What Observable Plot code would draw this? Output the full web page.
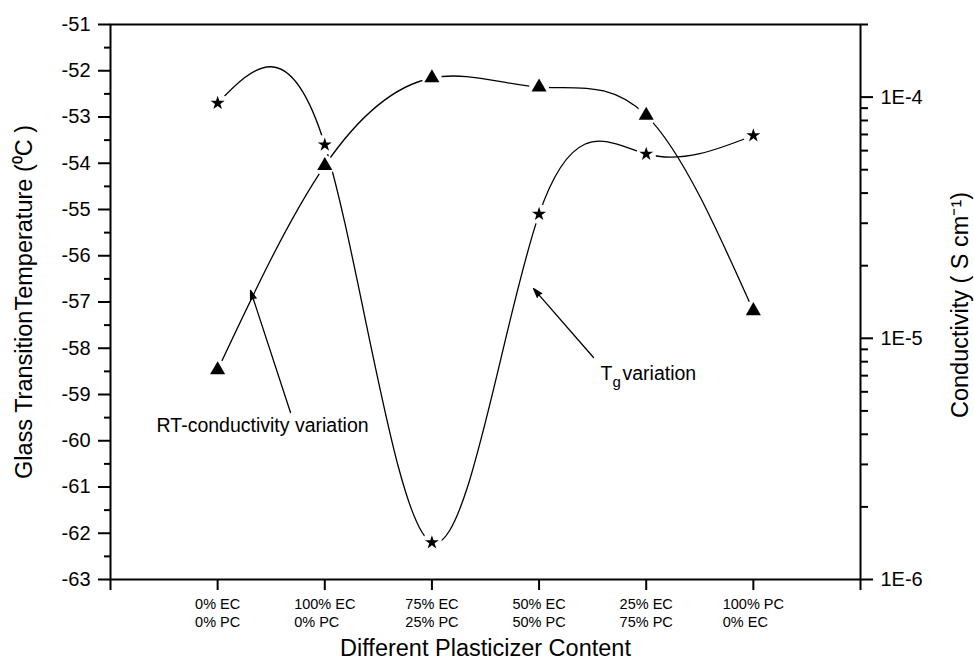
<!DOCTYPE html>
<html>
<head>
<meta charset="utf-8">
<script src="https://cdn.jsdelivr.net/npm/d3@7"></script>
<script src="https://cdn.jsdelivr.net/npm/@observablehq/plot@0.6"></script>
<style>
  html, body { margin: 0; padding: 0; background: #fff; }
  #chart { width: 974px; height: 659px; }
</style>
</head>
<body>
<div id="chart"></div>
<script>
// ---- data ----
const categories = ["0% EC\n0% PC", "100% EC\n0% PC", "75% EC\n25% PC", "50% EC\n50% PC", "25% EC\n75% PC", "100% PC\n0% EC"];
const categoryIndex = [1, 2, 3, 4, 5, 6];
const tgValues = [-52.7, -53.6, -62.2, -55.1, -53.8, -53.4];           // °C, left axis (stars)
const conductivity = [7.4e-6, 5.2e-5, 1.2e-4, 1.1e-4, 8.4e-5, 1.3e-5]; // S/cm, right log axis (triangles)
const leftTicks = d3.range(-63, -50, 1);
const leftMinorTicks = d3.range(-62.5, -51, 1);
const rightMajorTicks = [1e-6, 1e-5, 1e-4];
const rightMinorTicks = [2e-6,3e-6,4e-6,5e-6,6e-6,7e-6,8e-6,9e-6,2e-5,3e-5,4e-5,5e-5,6e-5,7e-5,8e-5,9e-5,2e-4];
const xTicks = [0, 1, 2, 3, 4, 5, 6, 7];
const leftDomain = [-63, -51];
const rightDomain = [1e-6, 2e-4];

// annotations (in chart data coordinates)
const noteLabels = ["RT-conductivity variation"];
const noteX = [0.43];
const noteY = [-59.67];
const arrowFromX = [1.68, 4.508];
const arrowFromY = [-59.39, -58.2];
const arrowToX = [1.307, 3.948];
const arrowToY = [-56.75, -56.71];
const tgNoteX = [4.573];
const tgNoteY = [-58.55];

// map conductivity (log scale on right axis) onto the left linear axis
const L0 = Math.log10(rightDomain[0]), L1 = Math.log10(rightDomain[1]);
const toLeft = c => leftDomain[0] + (leftDomain[1] - leftDomain[0]) * (Math.log10(c) - L0) / (L1 - L0);
const fromLeft = v => Math.pow(10, L0 + (v - leftDomain[0]) * (L1 - L0) / (leftDomain[1] - leftDomain[0]));

const tgData = categoryIndex.map((i, k) => ({i, v: tgValues[k]}));
const condData = categoryIndex.map((i, k) => ({i, v: toLeft(conductivity[k])}));
const arrows = arrowFromX.map((x, k) => ({x1: x, y1: arrowFromY[k], x2: arrowToX[k], y2: arrowToY[k]}));
const notes = noteLabels.map((t, k) => ({x: noteX[k], y: noteY[k], t}));
const tgNote = tgNoteX.map((x, k) => ({x, y: tgNoteY[k]}));

const font = "'Liberation Sans', Arial, Helvetica, sans-serif";

const chart = Plot.plot({
  width: 974,
  height: 659,
  marginLeft: 110,
  marginRight: 114,
  marginTop: 24,
  marginBottom: 80,
  style: {fontFamily: font, background: "#fff", color: "#000"},
  x: {domain: [0, 7]},
  y: {domain: leftDomain},
  marks: [
    // left axis
    Plot.axisY(leftTicks, {anchor: "left", tickSize: 12, tickPadding: 8, fontSize: 20, strokeWidth: 2, label: null, tickFormat: d => `${d}`}),
    Plot.axisY(leftMinorTicks, {anchor: "left", tickSize: 6, strokeWidth: 2, label: null, tickFormat: () => ""}),
    // right log axis
    Plot.axisY(rightMajorTicks.map(toLeft), {anchor: "right", tickSize: 12, tickPadding: 8, fontSize: 20, strokeWidth: 2, label: null,
      tickFormat: v => "1E" + Math.round(Math.log10(fromLeft(v)))}),
    Plot.axisY(rightMinorTicks.map(toLeft), {anchor: "right", tickSize: 7, strokeWidth: 2, label: null, tickFormat: () => ""}),
    // bottom axis
    Plot.axisX(xTicks, {anchor: "bottom", tickSize: 11, tickPadding: 6, fontSize: 14.5, lineHeight: 1.24, strokeWidth: 2, label: null,
      tickFormat: i => categories[i - 1] ?? ""}),
    Plot.frame({strokeWidth: 2}),
    // axis titles
    Plot.text(["Glass TransitionTemperature (\u2070C )"], {text: d => d, frameAnchor: "left", textAnchor: "middle", rotate: -90, dx: -86, fontSize: 23.5}),
    Plot.text(["Conductivity ( S cm\u207B\u00B9)"], {text: d => d, frameAnchor: "right", textAnchor: "middle", rotate: -90, dx: 100, dy: 3, fontSize: 23.5}),
    Plot.text(["Different Plasticizer Content"], {text: d => d, frameAnchor: "bottom", textAnchor: "middle", dy: 76, fontSize: 23.5}),
    // curves
    Plot.line(condData, {x: "i", y: "v", curve: "natural", stroke: "#000", strokeWidth: 1.3}),
    Plot.line(tgData, {x: "i", y: "v", curve: "natural", stroke: "#000", strokeWidth: 1.3}),
    // gaps round the symbols
    Plot.dot(condData, {x: "i", y: "v", r: 10, fill: "#fff"}),
    Plot.dot(tgData, {x: "i", y: "v", r: 10, fill: "#fff"}),
    // symbols
    Plot.dot(condData, {x: "i", y: "v", symbol: "triangle", r: 5.6, fill: "#000"}),
    Plot.dot(tgData, {x: "i", y: "v", symbol: "star", r: 4.4, fill: "#000"}),
    // annotations
    Plot.arrow(arrows, {x1: "x1", y1: "y1", x2: "x2", y2: "y2", stroke: "#000", fill: "#000", strokeWidth: 1.3, headLength: 11, headAngle: 35}),
    Plot.text(notes, {x: "x", y: "y", text: "t", textAnchor: "start", fontSize: 19.5}),
    Plot.text(tgNote, {x: "x", y: "y", text: () => "T", textAnchor: "start", fontSize: 19.5}),
    Plot.text(tgNote, {x: "x", y: "y", text: () => "g", textAnchor: "start", fontSize: 15, dx: 12, dy: 8}),
    Plot.text(tgNote, {x: "x", y: "y", text: () => "variation", textAnchor: "start", fontSize: 19.5, dx: 22})
  ]
});

document.getElementById("chart").append(chart);

// left-align the two lines of each x tick label inside a centred block
chart.querySelectorAll('g[aria-label="x-axis tick label"] text').forEach(t => {
  const w = t.getBBox().width;
  t.setAttribute("text-anchor", "start");
  t.querySelectorAll("tspan").forEach(s => s.setAttribute("x", -w / 2));
});
</script>
</body>
</html>
